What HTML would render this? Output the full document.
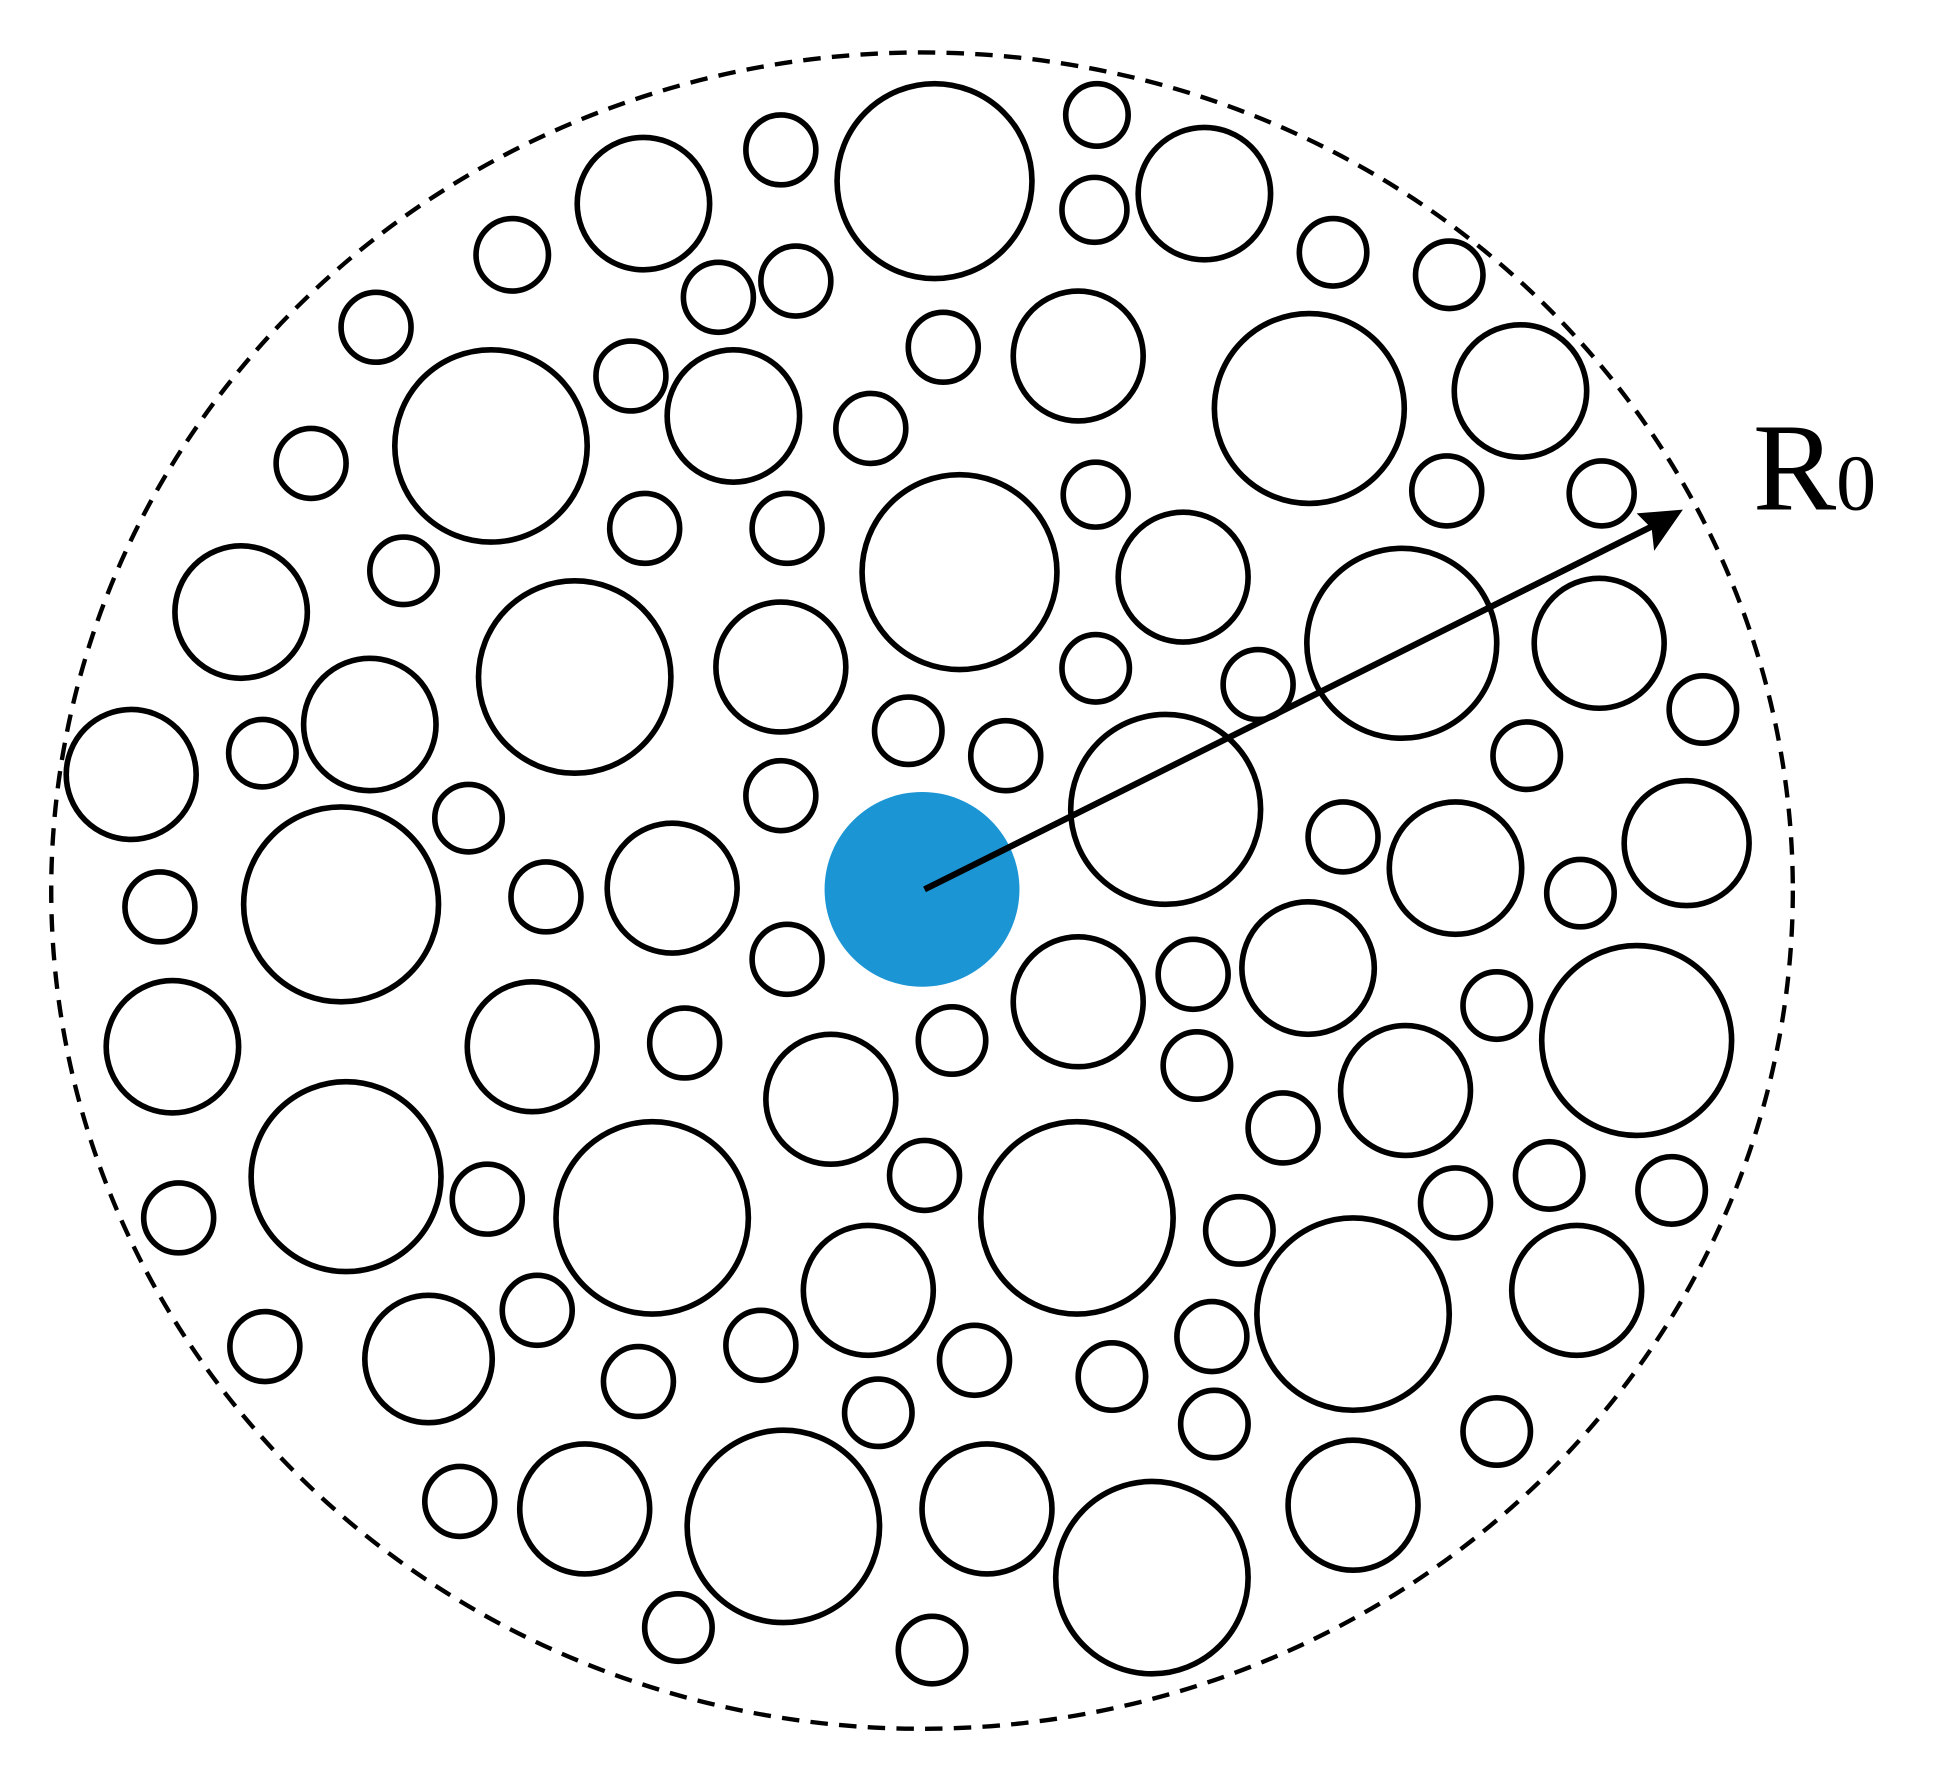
<!DOCTYPE html>
<html><head><meta charset="utf-8"><style>
html,body{margin:0;padding:0;background:#fff;}
svg{display:block;}
</style></head><body>
<svg width="1949" height="1765" viewBox="0 0 1560 1413" preserveAspectRatio="none" xmlns="http://www.w3.org/2000/svg">
<ellipse cx="738" cy="713" rx="697" ry="671" fill="none" stroke="#000" stroke-width="3.5" stroke-dasharray="14,9"/>
<g fill="none" stroke="#000" stroke-width="4.5">
<circle cx="748" cy="145" r="78"/><circle cx="393" cy="357" r="77"/><circle cx="768" cy="458" r="78"/><circle cx="460" cy="542" r="77"/><circle cx="1048" cy="327" r="76"/><circle cx="1122" cy="515" r="76"/><circle cx="933" cy="648" r="76"/><circle cx="273" cy="724" r="78"/><circle cx="1310" cy="833" r="76"/><circle cx="277" cy="942" r="76"/><circle cx="522" cy="975" r="77"/><circle cx="862" cy="975" r="77"/><circle cx="1083" cy="1052" r="77"/><circle cx="627" cy="1222" r="77"/><circle cx="922" cy="1263" r="77"/>
<circle cx="515" cy="163" r="53"/><circle cx="964" cy="155" r="53"/><circle cx="863" cy="285" r="52"/><circle cx="587" cy="333" r="53"/><circle cx="1217" cy="313" r="53"/><circle cx="193" cy="490" r="53"/><circle cx="947" cy="462" r="52"/><circle cx="625" cy="534" r="52"/><circle cx="296" cy="580" r="53"/><circle cx="1280" cy="515" r="52"/><circle cx="105" cy="620" r="52"/><circle cx="538" cy="711" r="52"/><circle cx="1165" cy="695" r="53"/><circle cx="1350" cy="675" r="50"/><circle cx="1047" cy="775" r="53"/><circle cx="863" cy="802" r="52"/><circle cx="138" cy="838" r="53"/><circle cx="426" cy="838" r="52"/><circle cx="665" cy="880" r="52"/><circle cx="1125" cy="873" r="52"/><circle cx="695" cy="1033" r="52"/><circle cx="1262" cy="1033" r="52"/><circle cx="343" cy="1088" r="51"/><circle cx="468" cy="1208" r="52"/><circle cx="790" cy="1208" r="52"/><circle cx="1083" cy="1205" r="52"/>
<circle cx="878" cy="92" r="25"/><circle cx="625" cy="120" r="28"/><circle cx="876" cy="168" r="26"/><circle cx="410" cy="204" r="29"/><circle cx="575" cy="238" r="28"/><circle cx="637" cy="225" r="28"/><circle cx="1067" cy="202" r="27"/><circle cx="1160" cy="220" r="27"/><circle cx="301" cy="262" r="28"/><circle cx="755" cy="278" r="28"/><circle cx="505" cy="301" r="28"/><circle cx="697" cy="343" r="28"/><circle cx="249" cy="371" r="28"/><circle cx="877" cy="396" r="26"/><circle cx="1158" cy="393" r="28"/><circle cx="1282" cy="395" r="26"/><circle cx="516" cy="423" r="28"/><circle cx="630" cy="423" r="28"/><circle cx="323" cy="457" r="27"/><circle cx="877" cy="535" r="27"/><circle cx="1007" cy="548" r="28"/><circle cx="727" cy="585" r="27"/><circle cx="805" cy="605" r="28"/><circle cx="210" cy="603" r="27"/><circle cx="1222" cy="605" r="27"/><circle cx="1363" cy="568" r="27"/><circle cx="625" cy="637" r="28"/><circle cx="375" cy="655" r="27"/><circle cx="1075" cy="670" r="28"/><circle cx="437" cy="718" r="28"/><circle cx="128" cy="726" r="28"/><circle cx="1265" cy="715" r="27"/><circle cx="630" cy="768" r="28"/><circle cx="955" cy="780" r="28"/><circle cx="548" cy="835" r="28"/><circle cx="762" cy="833" r="27"/><circle cx="958" cy="853" r="27"/><circle cx="1198" cy="805" r="27"/><circle cx="1027" cy="903" r="28"/><circle cx="740" cy="941" r="28"/><circle cx="390" cy="960" r="28"/><circle cx="1165" cy="963" r="28"/><circle cx="1240" cy="941" r="27"/><circle cx="1338" cy="953" r="27"/><circle cx="143" cy="975" r="28"/><circle cx="992" cy="985" r="27"/><circle cx="430" cy="1049" r="28"/><circle cx="970" cy="1070" r="28"/><circle cx="212" cy="1078" r="28"/><circle cx="609" cy="1077" r="28"/><circle cx="511" cy="1106" r="28"/><circle cx="780" cy="1089" r="28"/><circle cx="890" cy="1102" r="27"/><circle cx="703" cy="1131" r="27"/><circle cx="972" cy="1140" r="27"/><circle cx="1198" cy="1146" r="27"/><circle cx="368" cy="1202" r="28"/><circle cx="543" cy="1303" r="27"/><circle cx="746" cy="1321" r="27"/>
</g>
<circle cx="738" cy="712" r="78" fill="#1b95d4"/>
<line x1="740" y1="712" x2="1325" y2="420" stroke="#000" stroke-width="5"/>
<polygon points="1347,408 1310,411 1322,423 1324,441" fill="#000"/>
<text x="1403" y="408" font-family="Liberation Serif, serif" font-size="100" fill="#000">R<tspan font-size="64">0</tspan></text>
</svg>
</body></html>
